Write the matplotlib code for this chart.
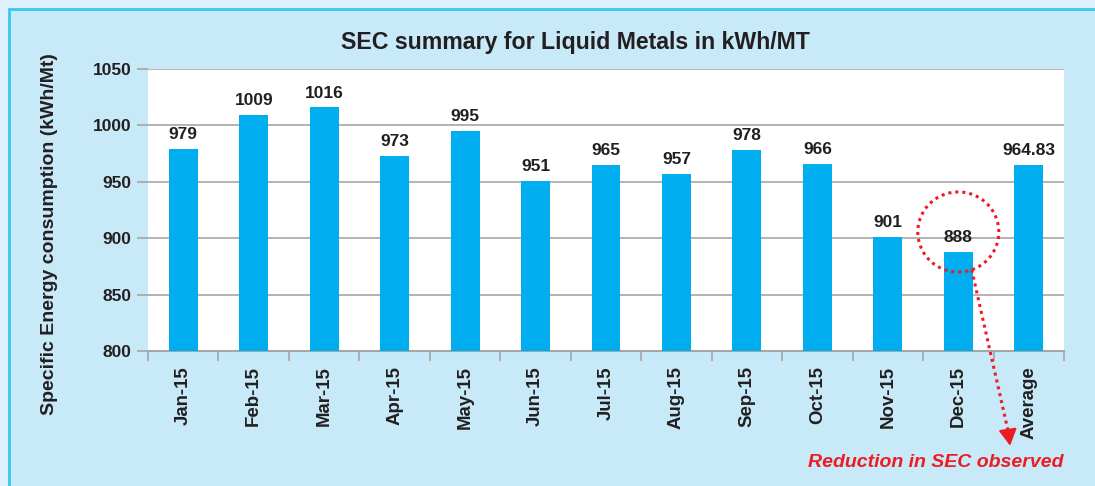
import matplotlib
matplotlib.use("Agg")
import matplotlib.pyplot as plt
from matplotlib.patches import Rectangle, Ellipse
import numpy as np

categories = ["Jan-15", "Feb-15", "Mar-15", "Apr-15", "May-15", "Jun-15", "Jul-15",
              "Aug-15", "Sep-15", "Oct-15", "Nov-15", "Dec-15", "Average"]
values = [979, 1009, 1016, 973, 995, 951, 965, 957, 978, 966, 901, 888, 964.83]
value_labels = ["979", "1009", "1016", "973", "995", "951", "965", "957", "978",
                "966", "901", "888", "964.83"]
yticks = [800, 850, 900, 950, 1000, 1050]

plt.rcParams['font.family'] = ['Liberation Sans', 'DejaVu Sans']

W, H = 1095, 486
fig = plt.figure(figsize=(W / 100, H / 100), dpi=100)
fig.patch.set_facecolor("#dcf1fb")

# inner panel
panel = Rectangle((9 / W, -0.05), 1.2, 1 - 9 / H + 0.05, transform=fig.transFigure,
                  facecolor="#c7e9f8", edgecolor="#3cc3ef", linewidth=2, zorder=-10)
fig.patches.append(panel)

ax = fig.add_axes([148 / W, 1 - 351 / H, (1064 - 148) / W, (351 - 69) / H])
ax.set_zorder(5)
ax.set_facecolor("white")

x = np.arange(len(categories))
ax.bar(x, values, width=0.41, color="#00aeef", zorder=3)
ax.set_xlim(-0.5, len(categories) - 0.5)
ax.set_ylim(800, 1050)
ax.set_yticks(yticks)
ax.set_yticklabels([str(t) for t in yticks], fontsize=12.5, fontweight="bold", color="#231f20")
ax.yaxis.grid(True, color="#a6a6a6", linewidth=1.2, zorder=1)
ax.tick_params(axis="y", length=8, width=1.2, color="#a6a6a6", pad=4)

ax.set_xticks(x)
ax.set_xticklabels(categories, rotation=90, fontsize=13.4, fontweight="bold", color="#231f20")
ax.set_xticks(np.arange(len(categories) + 1) - 0.5, minor=True)
ax.tick_params(axis="x", which="major", length=0, pad=11)
ax.tick_params(axis="x", which="minor", length=7, width=1.2, color="#a6a6a6")

for s in ["top", "right", "left"]:
    ax.spines[s].set_visible(False)
ax.spines["bottom"].set_color("#a6a6a6")
ax.spines["bottom"].set_linewidth(1.5)
ax.set_axisbelow(True)

for xi, v, lab in zip(x, values, value_labels):
    ax.text(xi, v + 6, lab, ha="center", va="bottom", fontsize=12.5, fontweight="bold",
            color="#231f20")

fig.text(575 / W, 1 - 42 / H, "SEC summary for Liquid Metals in kWh/MT", ha="center",
         va="center", fontsize=16.7, fontweight="bold", color="#231f20")
fig.text(50 / W, 1 - 234 / H, "Specific Energy consumption (kWh/Mt)", rotation=90,
         ha="center", va="center", fontsize=14, fontweight="bold", color="#231f20")

# annotation circle and arrow
red = "#ed1c24"
circ = Ellipse((11, 905.5), 1.15, 71, fill=False, edgecolor=red, linewidth=2.2,
               linestyle=(0, (1, 1.3)), clip_on=False, zorder=5)
ax.add_patch(circ)
ax.plot([11.19, 11.70], [872, 731], color=red, linewidth=2.2, linestyle=(0, (1, 1.3)),
        clip_on=False, zorder=5)
ax.annotate("", xy=(11.735, 716), xytext=(11.70, 731), xycoords="data",
            annotation_clip=False,
            arrowprops=dict(arrowstyle="-|>,head_length=1.0,head_width=0.55",
                            color=red, linewidth=1.5, shrinkA=0, shrinkB=0))
fig.text(1063 / W, 1 - 462 / H, "Reduction in SEC observed", ha="right", va="center",
         fontsize=14, fontweight="bold", fontstyle="italic", color=red)

fig.savefig("out.png", dpi=100, facecolor=fig.get_facecolor())
